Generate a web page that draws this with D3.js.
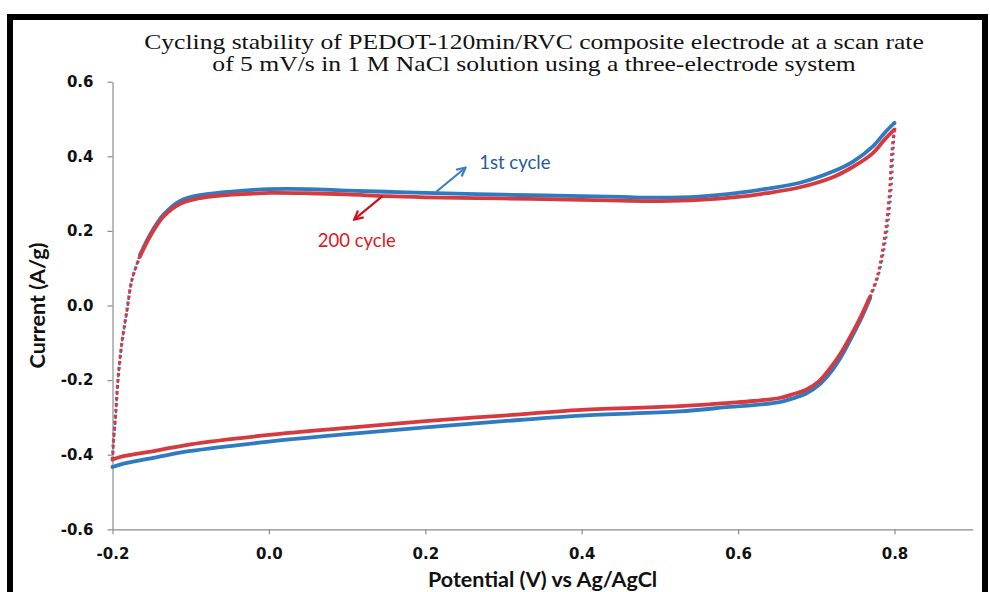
<!DOCTYPE html>
<html>
<head>
<meta charset="utf-8">
<script src="https://cdn.jsdelivr.net/npm/d3@7"></script>
<style>
  html, body { margin: 0; padding: 0; background: #fff; }
  svg { display: block; }
</style>
</head>
<body>
<svg id="chart" width="990" height="592"></svg>
<script>
// ---------------- DATA ----------------
const titleLines = [
  "Cycling stability of PEDOT-120min/RVC composite electrode at a scan rate",
  "of 5 mV/s in 1 M NaCl solution using a three-electrode system"
];
const xTicks = [-0.2, 0.0, 0.2, 0.4, 0.6, 0.8];
const xTickLabels = ["-0.2", "0.0", "0.2", "0.4", "0.6", "0.8"];
const yTicks = [-0.6, -0.4, -0.2, 0.0, 0.2, 0.4, 0.6];
const yTickLabels = ["-0.6", "-0.4", "-0.2", "0.0", "0.2", "0.4", "0.6"];
const xTitle = "Potential (V) vs Ag/AgCl";
const yTitle = "Current (A/g)";

// 1st cycle: anodic (forward) sweep
const cycle1FwdV = [-0.2, -0.199, -0.196, -0.193, -0.188, -0.182, -0.175, -0.165, -0.152, -0.135, -0.114, -0.088, -0.06, -0.02, 0.0, 0.05, 0.1, 0.15, 0.2, 0.3, 0.4, 0.45, 0.5, 0.55, 0.6, 0.636, 0.679, 0.721, 0.747, 0.772, 0.787, 0.8];
const cycle1FwdI = [-0.433, -0.38, -0.3, -0.2, -0.1, -0.02, 0.07, 0.135, 0.19, 0.243, 0.28, 0.296, 0.303, 0.31, 0.312, 0.312, 0.308, 0.305, 0.302, 0.297, 0.293, 0.291, 0.289, 0.292, 0.302, 0.313, 0.329, 0.359, 0.386, 0.426, 0.462, 0.49];
// 1st cycle: cathodic (reverse) sweep
const cycle1RevV = [0.8, 0.799, 0.795, 0.789, 0.779, 0.769, 0.756, 0.743, 0.731, 0.718, 0.704, 0.687, 0.67, 0.653, 0.62, 0.589, 0.525, 0.4, 0.3, 0.2, 0.1, 0.0, -0.1, -0.144, -0.186, -0.2];
const cycle1RevI = [0.49, 0.43, 0.283, 0.176, 0.077, 0.021, -0.041, -0.094, -0.14, -0.18, -0.212, -0.236, -0.249, -0.259, -0.267, -0.272, -0.284, -0.295, -0.31, -0.327, -0.345, -0.365, -0.39, -0.407, -0.424, -0.433];

// 200th cycle: anodic (forward) sweep
const cycle200FwdV = [-0.2, -0.199, -0.196, -0.193, -0.188, -0.182, -0.175, -0.165, -0.152, -0.135, -0.114, -0.088, -0.06, -0.02, 0.0, 0.05, 0.1, 0.15, 0.2, 0.3, 0.4, 0.45, 0.5, 0.55, 0.6, 0.636, 0.679, 0.721, 0.747, 0.772, 0.787, 0.8];
const cycle200FwdI = [-0.413, -0.37, -0.29, -0.2, -0.1, -0.02, 0.07, 0.131, 0.185, 0.238, 0.272, 0.288, 0.295, 0.3, 0.302, 0.301, 0.298, 0.293, 0.29, 0.287, 0.283, 0.281, 0.28, 0.283, 0.291, 0.301, 0.317, 0.344, 0.372, 0.408, 0.444, 0.472];
// 200th cycle: cathodic (reverse) sweep
const cycle200RevV = [0.8, 0.797, 0.793, 0.787, 0.778, 0.768, 0.755, 0.742, 0.73, 0.717, 0.704, 0.687, 0.67, 0.653, 0.62, 0.589, 0.525, 0.4, 0.3, 0.2, 0.1, 0.0, -0.1, -0.144, -0.186, -0.2];
const cycle200RevI = [0.472, 0.417, 0.283, 0.176, 0.077, 0.021, -0.038, -0.089, -0.132, -0.17, -0.202, -0.226, -0.238, -0.248, -0.256, -0.261, -0.27, -0.28, -0.295, -0.31, -0.328, -0.347, -0.372, -0.389, -0.404, -0.413];

// annotations (data units)
const annotations = [
  { text: "1st cycle", tail: [0.214, 0.305], head: [0.2505, 0.368], label: [0.269, 0.366], anchor: "start", arrowColor: "#3a7fc1", textColor: "#1f5c99" },
  { text: "200 cycle", tail: [0.1457, 0.294], head: [0.11, 0.232], label: [0.1124, 0.157], anchor: "middle", arrowColor: "#c8141a", textColor: "#e0161b" }
];

// ---------------- LAYOUT ----------------
const svg = d3.select("#chart");
const plot = { left: 112.5, right: 972.7, top: 81.7, bottom: 529.3 };
const x = d3.scaleLinear().domain([-0.2, 0.9]).range([plot.left, plot.right]);
const y = d3.scaleLinear().domain([-0.6, 0.6]).range([plot.bottom, plot.top]);

const blue = "#2f7bc2";
const red = "#d63a3f";
const axisColor = "#8c8c8c";

// outer frame
svg.append("rect")
  .attr("x", 10).attr("y", 17)
  .attr("width", 975).attr("height", 700)
  .attr("fill", "none").attr("stroke", "#000").attr("stroke-width", 6);

// title (horizontally stretched like the reference)
const title = svg.append("text")
  .attr("transform", "translate(534,0) scale(1.164,1)")
  .attr("font-family", "'Liberation Serif', 'Times New Roman', serif")
  .attr("font-size", 22)
  .attr("fill", "#111")
  .attr("text-anchor", "middle");
titleLines.forEach((t, i) => {
  title.append("tspan").attr("x", 0).attr("y", 49 + i * 22.5).text(t);
});

// axes
const xAxis = svg.append("g")
  .attr("transform", `translate(0,${plot.bottom})`)
  .call(d3.axisBottom(x).tickValues(xTicks).tickSize(5).tickSizeOuter(0).tickPadding(14)
    .tickFormat((d, i) => xTickLabels[i]));
const yAxis = svg.append("g")
  .attr("transform", `translate(${plot.left},0)`)
  .call(d3.axisLeft(y).tickValues(yTicks).tickSize(5).tickSizeOuter(0).tickPadding(14)
    .tickFormat((d, i) => yTickLabels[i]));
[xAxis, yAxis].forEach(g => {
  g.select(".domain").attr("stroke", axisColor).attr("stroke-width", 1.2);
  g.selectAll(".tick line").attr("stroke", axisColor).attr("stroke-width", 1.2);
  g.selectAll(".tick text")
    .attr("font-family", "'DejaVu Sans', Verdana, sans-serif")
    .attr("font-weight", "bold")
    .attr("font-size", 15)
    .attr("fill", "#111");
});

// axis titles
svg.append("text")
  .attr("x", (plot.left + plot.right) / 2).attr("y", 587)
  .attr("text-anchor", "middle")
  .attr("font-family", "Lato, sans-serif").attr("font-weight", "bold")
  .attr("font-size", 21.5).attr("fill", "#111")
  .text(xTitle);
svg.append("text")
  .attr("transform", `translate(45,${(plot.top + plot.bottom) / 2}) rotate(-90)`)
  .attr("text-anchor", "middle")
  .attr("font-family", "Lato, sans-serif").attr("font-weight", "bold")
  .attr("font-size", 21.5).attr("fill", "#111")
  .text(yTitle);

// series drawing: solid where the trace is shallow, dotted markers where it is steep
const line = d3.line().curve(d3.curveCatmullRom.alpha(0.5));
function drawBranch(V, I, color, dotDash, dotWidth) {
  const pts = V.map((v, i) => [x(v), y(I[i])]);
  const steep = [];
  for (let i = 0; i < pts.length - 1; i++) {
    const dx = Math.abs(pts[i + 1][0] - pts[i][0]);
    const dy = Math.abs(pts[i + 1][1] - pts[i][1]);
    steep.push(dy > 2.3 * dx);
  }
  let start = 0;
  for (let i = 1; i <= steep.length; i++) {
    if (i === steep.length || steep[i] !== steep[start]) {
      const sub = pts.slice(start, i + 1);
      const isSteep = steep[start];
      svg.append("path")
        .attr("d", line(sub))
        .attr("fill", "none")
        .attr("stroke", color)
        .attr("stroke-width", isSteep ? dotWidth : 3.8)
        .attr("stroke-dasharray", isSteep ? dotDash : null)
        .attr("stroke-linecap", isSteep ? "butt" : "round");
      start = i;
    }
  }
}
drawBranch(cycle1FwdV, cycle1FwdI, blue, "2.2,3.8", 2.4);
drawBranch(cycle1RevV, cycle1RevI, blue, "2.2,3.8", 2.4);
drawBranch(cycle200FwdV, cycle200FwdI, red, "3,3", 3.2);
drawBranch(cycle200RevV, cycle200RevI, red, "3,3", 3.2);

// annotations
const defs = svg.append("defs");
annotations.forEach((a, i) => {
  defs.append("marker")
    .attr("id", "arrow" + i)
    .attr("viewBox", "0 0 10 10")
    .attr("refX", 8).attr("refY", 5)
    .attr("markerWidth", 5).attr("markerHeight", 5)
    .attr("orient", "auto")
    .append("path").attr("d", "M1,1 L9,5 L1,9").attr("fill", "none")
    .attr("stroke", a.arrowColor).attr("stroke-width", 2);
  svg.append("line")
    .attr("x1", x(a.tail[0])).attr("y1", y(a.tail[1]))
    .attr("x2", x(a.head[0])).attr("y2", y(a.head[1]))
    .attr("stroke", a.arrowColor).attr("stroke-width", 2.2)
    .attr("marker-end", `url(#arrow${i})`);
  svg.append("text")
    .attr("x", x(a.label[0])).attr("y", y(a.label[1]))
    .attr("text-anchor", a.anchor)
    .attr("font-family", "Lato, sans-serif")
    .attr("font-size", 18.5)
    .attr("fill", a.textColor)
    .text(a.text);
});
</script>
</body>
</html>
